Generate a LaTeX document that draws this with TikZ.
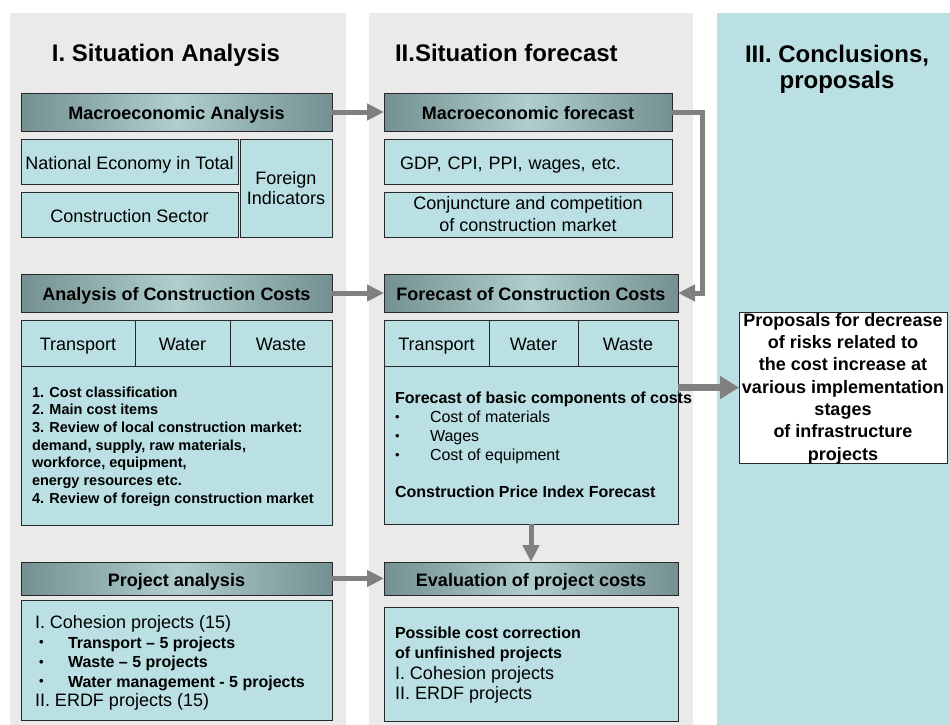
\documentclass[tikz,border=0pt]{standalone}
\usepackage{fontspec}
\setmainfont{Liberation Sans}
\usetikzlibrary{arrows.meta}
\definecolor{bggray}{RGB}{234,234,234}
\definecolor{boxteal}{RGB}{186,224,227}
\definecolor{hdrdark}{RGB}{116,144,144}
\definecolor{hdrlight}{RGB}{176,206,206}
\definecolor{boxline}{RGB}{40,40,40}
\definecolor{flowgray}{RGB}{128,128,128}
\newcommand{\listdot}{\raisebox{0.15ex}{\fontsize{13}{13}\selectfont•}}

\begin{document}
\begin{tikzpicture}[x=1pt, y=-1pt,
	every node/.style={inner sep=0pt, outer sep=0pt},
	title/.style={font=\bfseries\fontsize{24}{26}\selectfont},
	oneline/.style={text height=16pt, text depth=1pt},
	hdr/.style={oneline, draw=boxline, line width=0.9pt, anchor=north west, left color=hdrdark, right color=hdrdark, middle color=hdrlight, font=\bfseries\fontsize{18}{21}\selectfont},
	cell/.style={draw=boxline, line width=0.9pt, fill=boxteal, anchor=north west, align=center, font=\fontsize{18}{21}\selectfont},
	note/.style={anchor=west, align=left},
	flow/.style={draw=flowgray, line width=5pt, -{Triangle[length=17pt, width=16pt]}},
	bigflow/.style={flow, line width=7pt, -{Triangle[length=19pt, width=22pt]}}]
	\useasboundingbox (0,0) rectangle (950,725);
	\fill[bggray] (10,13) rectangle (346,725);
	\fill[bggray] (369,13) rectangle (693,725);
	\fill[boxteal] (717,13) rectangle (950,725);

	\node[title, anchor=base] (ttlA) at (166,62) {I. Situation Analysis};
	\node[title, anchor=base west] (ttlB) at (395,62) {II.Situation forecast};
	\node[title, align=center] (ttlC) at (837,68.8) {III. Conclusions,\\proposals};

	\node[hdr, minimum width=311pt, minimum height=38pt] (macA) at (21,93) {Macroeconomic Analysis};
	\node[cell, oneline, minimum width=217pt, minimum height=45pt] (natEco) at (21,139) {National Economy in Total};
	\node[cell, oneline, minimum width=217pt, minimum height=45pt] (conSec) at (21,192) {Construction Sector};
	\node[cell, minimum width=92pt, minimum height=98pt, font=\fontsize{18}{20}\selectfont] (forInd) at (240,139) {Foreign\\Indicators};

	\node[hdr, minimum width=288pt, minimum height=38pt] (macB) at (384,93) {Macroeconomic forecast};
	\node[cell, oneline, minimum width=288pt, minimum height=45pt, align=left, text width=256pt, inner xsep=16pt] (gdp) at (384,139) {GDP, CPI, PPI, wages, etc.};
	\node[cell, minimum width=288pt, minimum height=45pt, font=\fontsize{18}{22}\selectfont] (conj) at (384,192) {Conjuncture and competition\\of construction market};

	\node[hdr, minimum width=311pt, minimum height=38pt] (costA) at (21,274) {Analysis of Construction Costs};
	\node[cell, oneline, minimum width=114pt, minimum height=46pt] (trA) at (21,320) {Transport};
	\node[cell, oneline, minimum width=95pt, minimum height=46pt] (waA) at (135,320) {Water};
	\node[cell, oneline, minimum width=102pt, minimum height=46pt] (wsA) at (230,320) {Waste};
	\node[cell, minimum width=311pt, minimum height=159pt] (bodyA) at (21,366) {};
	\node[note, font=\bfseries\fontsize{14.5}{17.7}\selectfont] (listA) at ([xshift=11pt, yshift=-1pt]bodyA.west) {1. Cost classification\\
		2. Main cost items\\
		3. Review of local construction market:\\
		demand, supply, raw materials,\\
		workforce, equipment,\\
		energy resources etc.\\
		4. Review of foreign construction market};

	\node[hdr, minimum width=294pt, minimum height=38pt] (costB) at (384,274) {Forecast of Construction Costs};
	\node[cell, oneline, minimum width=105pt, minimum height=46pt] (trB) at (384,320) {Transport};
	\node[cell, oneline, minimum width=89pt, minimum height=46pt] (waB) at (489,320) {Water};
	\node[cell, oneline, minimum width=100pt, minimum height=46pt] (wsB) at (578,320) {Waste};
	\node[cell, minimum width=294pt, minimum height=158pt] (bodyB) at (384,366) {};
	\node[note, font=\fontsize{16}{19}\selectfont] (listB) at ([xshift=11pt]bodyB.west) {\textbf{Forecast of basic components of costs}\\
		\makebox[35pt][l]{\listdot}Cost of materials\\
		\makebox[35pt][l]{\listdot}Wages\\
		\makebox[35pt][l]{\listdot}Cost of equipment\\[18pt]
		\textbf{Construction Price Index Forecast}};

	\node[hdr, minimum width=311pt, minimum height=33pt] (prjA) at (21,562) {Project analysis};
	\node[cell, minimum width=311pt, minimum height=120pt] (prjBody) at (21,600) {};
	\node[note, font=\fontsize{18}{19.5}\selectfont] (prjList) at ([xshift=14pt, yshift=-3pt]prjBody.west) {I. Cohesion projects (15)\\
		{\bfseries\fontsize{16}{19.5}\selectfont\hspace*{4pt}\makebox[29pt][l]{\listdot}Transport – 5 projects}\\
		{\bfseries\fontsize{16}{19.5}\selectfont\hspace*{4pt}\makebox[29pt][l]{\listdot}Waste – 5 projects}\\
		{\bfseries\fontsize{16}{19.5}\selectfont\hspace*{4pt}\makebox[29pt][l]{\listdot}Water management - 5 projects}\\
		II. ERDF projects (15)};

	\node[hdr, minimum width=294pt, minimum height=33pt] (evlB) at (384,562) {Evaluation of project costs};
	\node[cell, minimum width=294pt, minimum height=114pt] (evlBody) at (384,607) {};
	\node[note, font=\fontsize{18}{20.5}\selectfont] (evlList) at ([xshift=11pt, yshift=-1pt]evlBody.west) {{\bfseries\fontsize{16}{20.5}\selectfont Possible cost correction}\\
		{\bfseries\fontsize{16}{20.5}\selectfont of unfinished projects}\\
		I. Cohesion projects\\
		II. ERDF projects};

	\node[draw=boxline, line width=0.9pt, fill=white, minimum width=208pt, minimum height=151pt, anchor=north west] (prop) at (739,312) {};
	\node[align=center, font=\bfseries\fontsize{18}{22.3}\selectfont] (propTxt) at ([yshift=-1pt]prop.center) {Proposals for decrease\\of risks related to\\the cost increase at\\various implementation\\stages\\of infrastructure\\projects};

	\draw[flow] (macA.east) -- (macB.west);
	\draw[flow] (costA.east) -- (costB.west);
	\draw[flow] (prjA.east) -- (evlB.west);
	\draw[flow] (macB.east) -- ++(30,0) |- (costB.east);
	\draw[flow] (bodyB.south) -- (evlB.north);
	\draw[bigflow] (bodyB.east |- prop.west) -- (prop.west);
\end{tikzpicture}
\end{document}
